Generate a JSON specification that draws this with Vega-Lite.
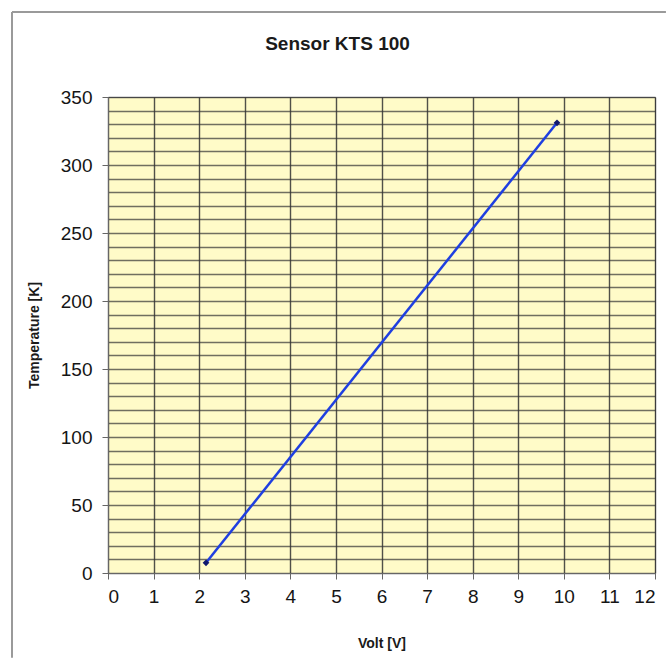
{
  "$schema": "https://vega.github.io/schema/vega-lite/v6.json",
  "width": 547,
  "height": 476,
  "autosize": "none",
  "padding": {"left": 108, "top": 97, "right": 15, "bottom": 89},
  "background": "white",
  "title": {
    "text": "Sensor KTS 100",
    "font": "Liberation Sans",
    "fontSize": 19,
    "fontWeight": "bold",
    "color": "#1a1a1a",
    "anchor": "middle",
    "dx": -44,
    "offset": -43
  },
  "config": {
    "font": "Liberation Sans",
    "view": {"fill": "#FFFBC8", "stroke": "#777777", "strokeWidth": 1}
  },
  "resolve": {"scale": {"x": "independent", "y": "independent"}, "axis": {"x": "independent", "y": "independent"}},
  "layer": [
    {
      "data": {"values": [{"volt": 2.15, "temp": 7.5}, {"volt": 9.85, "temp": 331}]},
      "encoding": {
        "x": {
          "field": "volt",
          "type": "quantitative",
          "scale": {"domain": [0, 12], "nice": false},
          "axis": {
            "values": [0, 1, 2, 3, 4, 5, 6, 7, 8, 9, 10, 11, 12],
            "grid": true,
            "gridColor": "#333333",
            "gridWidth": 1.4,
            "gridOpacity": 0.85,
            "domainColor": "#666666",
            "tickColor": "#666666",
            "tickSize": 6,
            "labelFontSize": 19,
            "labelColor": "#151515",
            "labelPadding": 8,
            "title": "Volt [V]",
            "titleFontSize": 14,
            "titleFontWeight": "bold",
            "titleColor": "#1a1a1a",
            "titlePadding": 30
          }
        },
        "y": {
          "field": "temp",
          "type": "quantitative",
          "scale": {"domain": [0, 350], "nice": false},
          "axis": {
            "values": [0, 10, 20, 30, 40, 50, 60, 70, 80, 90, 100, 110, 120, 130, 140, 150, 160, 170, 180, 190, 200, 210, 220, 230, 240, 250, 260, 270, 280, 290, 300, 310, 320, 330, 340, 350],
            "labelExpr": "datum.value % 50 === 0 ? datum.label : ''",
            "labelOverlap": false,
            "tickOpacity": {"expr": "datum.value % 50 === 0 ? 1 : 0"},
            "grid": true,
            "gridColor": "#333333",
            "gridWidth": 1.4,
            "gridOpacity": 0.7,
            "domainColor": "#666666",
            "tickColor": "#666666",
            "tickSize": 6,
            "labelFontSize": 19,
            "labelColor": "#151515",
            "labelPadding": 10,
            "title": "Temperature [K]",
            "titleFontSize": 14,
            "titleFontWeight": "bold",
            "titleColor": "#1a1a1a",
            "titlePadding": 19
          }
        }
      },
      "layer": [
        {"mark": {"type": "line", "color": "#1F3FE0", "strokeWidth": 2.5}},
        {"mark": {"type": "point", "shape": "diamond", "filled": true, "color": "#10186E", "size": 45, "opacity": 1}}
      ]
    },
    {
      "data": {"values": [{}]},
      "mark": {"type": "rule", "stroke": "#9a9a9a", "strokeWidth": 2},
      "encoding": {
        "x": {"datum": -0.1755, "type": "quantitative", "scale": {"domain": [0, 1], "nice": false, "zero": false}, "axis": null},
        "y": {"datum": 1.1786, "type": "quantitative", "scale": {"domain": [0, 1], "nice": false, "zero": false}, "axis": null},
        "y2": {"datum": -0.178}
      }
    },
    {
      "data": {"values": [{}]},
      "mark": {"type": "rule", "stroke": "#9a9a9a", "strokeWidth": 2},
      "encoding": {
        "x": {"datum": -0.1755, "type": "quantitative", "scale": {"domain": [0, 1], "nice": false, "zero": false}, "axis": null},
        "x2": {"datum": 1.02},
        "y": {"datum": 1.1786, "type": "quantitative", "scale": {"domain": [0, 1], "nice": false, "zero": false}, "axis": null}
      }
    }
  ]
}
